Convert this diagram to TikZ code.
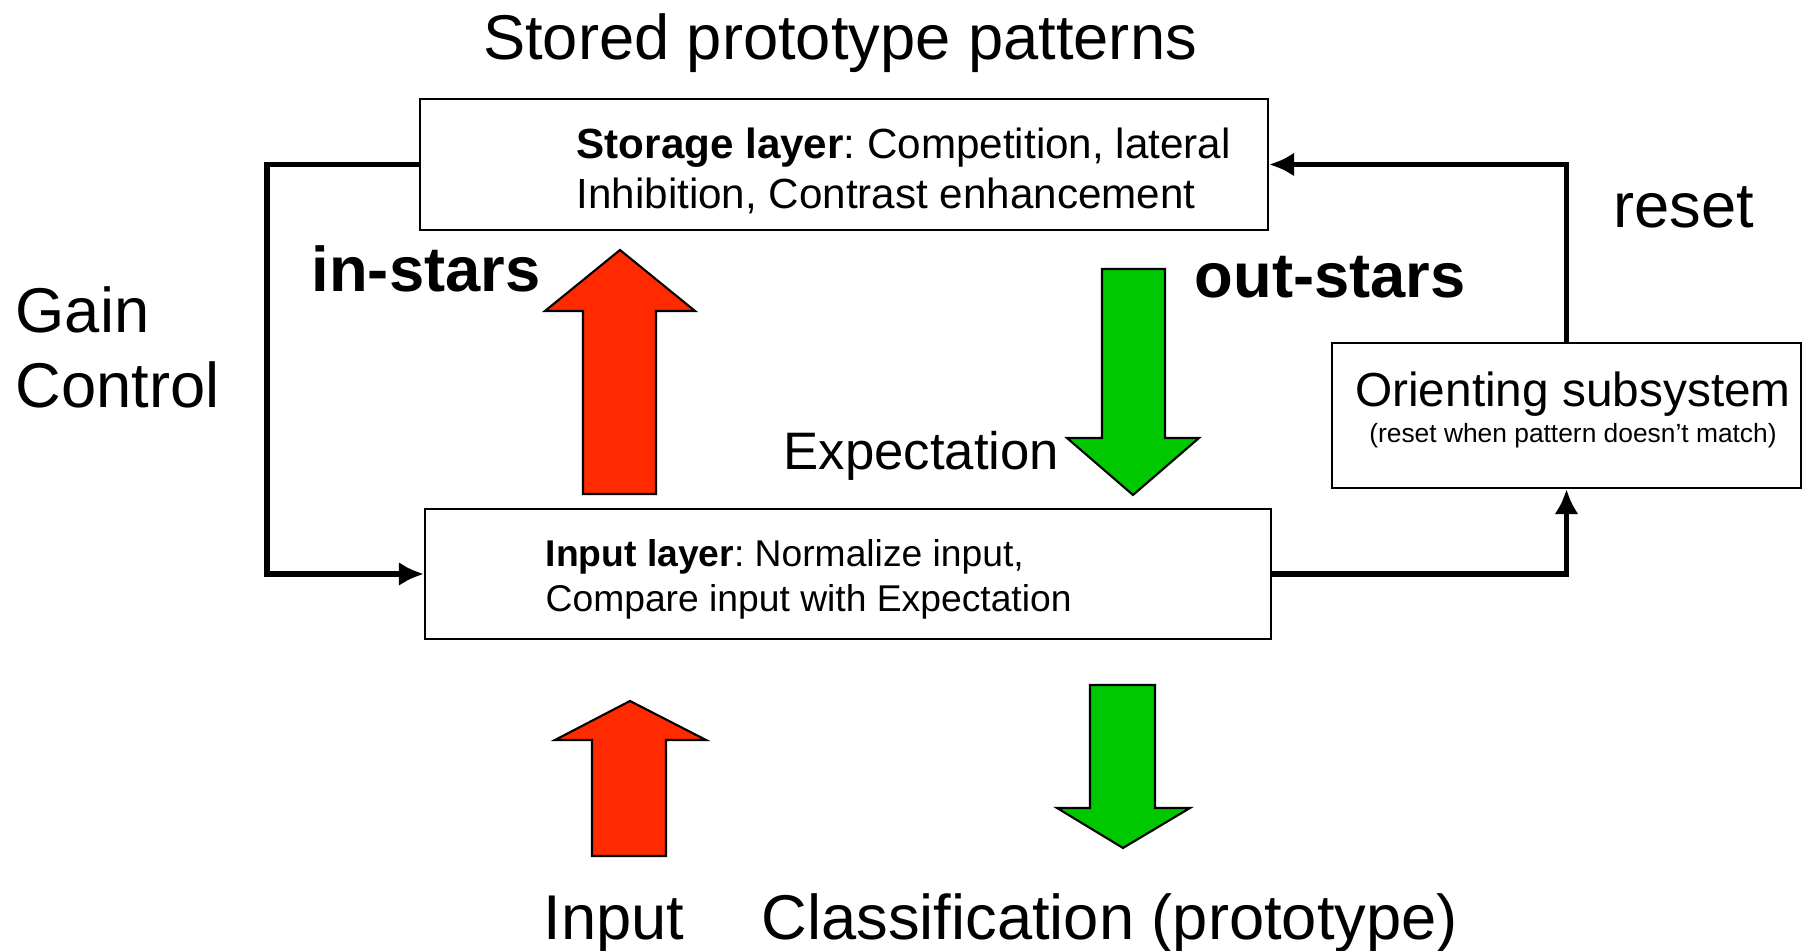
\documentclass[tikz,border=0pt]{standalone}
\usepackage{fontspec}
\setmainfont{Liberation Sans}
\usetikzlibrary{arrows.meta}
\definecolor{arrowred}{RGB}{255,42,0}
\definecolor{arrowgreen}{RGB}{0,200,0}
\frenchspacing

\begin{document}
\begin{tikzpicture}[
    layer/.style={draw, rectangle, fill=white, line width=0.6pt, inner sep=0pt},
    wire/.style={line width=1.6pt, -{Latex[length=2.5mm,width=2.4mm]}},
    bigtext/.style={font=\fontsize{18}{21.6}\selectfont},
    bigbold/.style={font=\fontsize{18}{21.6}\selectfont\bfseries},
    fatred/.style={draw, line width=0.6pt, fill=arrowred},
    fatgreen/.style={draw, line width=0.6pt, fill=arrowgreen}]
    \useasboundingbox (0,0) rectangle (18.09,-9.51);

    % Title
    \node[bigtext, anchor=base, inner sep=0pt] (title) at (8.40,-0.60) {Stored prototype patterns};

    % Storage layer box
    \node[layer, minimum width=8.48cm, minimum height=1.31cm] (storage) at (8.44,-1.645) {};
    \node[anchor=west, align=left, inner sep=0pt, font=\fontsize{12}{14.2}\selectfont] (storagetxt) at ([xshift=1.57cm,yshift=-0.06cm]storage.west) {\textbf{Storage layer}: Competition, lateral\\Inhibition, Contrast enhancement};

    % Input layer box
    \node[layer, minimum width=8.46cm, minimum height=1.30cm] (input) at (8.48,-5.74) {};
    \node[anchor=west, align=left, inner sep=0pt, font=\fontsize{10.6}{12.8}\selectfont] (inputtxt) at ([xshift=1.21cm,yshift=-0.05cm]input.west) {\textbf{Input layer}: Normalize input,\\Compare input with Expectation};

    % Orienting subsystem box
    \node[layer, minimum width=4.69cm, minimum height=1.45cm] (orient) at (15.665,-4.155) {};
    \node[anchor=base, inner sep=0pt, font=\fontsize{13.6}{16}\selectfont] (orienttxt) at (15.73,-4.07) {Orienting subsystem};
    \node[anchor=base, inner sep=0pt, font=\fontsize{7.5}{9}\selectfont] (orientnote) at (15.73,-4.43) {(reset when pattern doesn’t match)};

    % Labels
    \node[bigtext, anchor=base west, align=left, inner sep=0pt] (gain) at (0.15,-4.08) {Gain\\Control};
    \node[bigtext, anchor=base west, inner sep=0pt] (reset) at (16.13,-2.28) {reset};
    \node[bigbold, anchor=base west, inner sep=0pt] (instars) at (3.11,-2.92) {in-stars};
    \node[bigbold, anchor=base west, inner sep=0pt] (outstars) at (11.94,-2.98) {out-stars};
    \node[anchor=base west, inner sep=0pt, font=\fontsize{15}{18}\selectfont] (expect) at (7.83,-4.70) {Expectation};
    \node[bigtext, anchor=base west, inner sep=0pt] (inlabel) at (5.43,-9.40) {Input};
    \node[bigtext, anchor=base west, inner sep=0pt] (classlabel) at (7.61,-9.40) {Classification (prototype)};

    % Block arrows
    \draw[fatred] (5.83,-4.94) -- (5.83,-3.11) -- (5.45,-3.11) -- (6.20,-2.50) -- (6.95,-3.11) -- (6.56,-3.11) -- (6.56,-4.94) -- cycle;
    \draw[fatgreen] (11.02,-2.69) -- (11.02,-4.38) -- (10.67,-4.38) -- (11.33,-4.95) -- (11.99,-4.38) -- (11.65,-4.38) -- (11.65,-2.69) -- cycle;
    \draw[fatred] (5.92,-8.56) -- (5.92,-7.40) -- (5.55,-7.40) -- (6.30,-7.01) -- (7.06,-7.40) -- (6.66,-7.40) -- (6.66,-8.56) -- cycle;
    \draw[fatgreen] (10.90,-6.85) -- (10.90,-8.08) -- (10.57,-8.08) -- (11.23,-8.48) -- (11.90,-8.08) -- (11.55,-8.08) -- (11.55,-6.85) -- cycle;

    % Gain control loop
    \draw[wire] (storage.west) -- ++(-1.52,0) |- (input.west);

    % Reset loop
    \draw[wire] (input.east) -| (orient.south);
    \draw[wire] (orient.north) |- (storage.east);
\end{tikzpicture}
\end{document}
